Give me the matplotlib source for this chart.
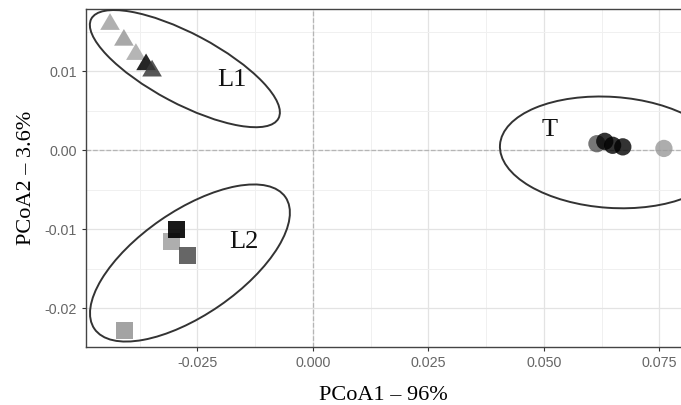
import matplotlib
matplotlib.use("Agg")
import matplotlib.pyplot as plt
import matplotlib.transforms as mtransforms
from matplotlib.patches import Ellipse
from matplotlib.ticker import MultipleLocator

# PCoA scores per group
L1_x = [-0.0439, -0.0409, -0.0383, -0.0361, -0.0348]
L1_y = [0.0162, 0.0142, 0.0124, 0.0111, 0.0103]
L1_col = ['#a3a3a3', '#999999', '#a8a8a8', '#000000', '#3a3a3a']

L2_x = [-0.0306, -0.0296, -0.0272, -0.0408]
L2_y = [-0.0116, -0.0100, -0.0134, -0.0229]
L2_col = ['#a5a5a5', '#000000', '#555555', '#999999']

T_x = [0.0615, 0.0632, 0.0649, 0.0671, 0.0760]
T_y = [0.0008, 0.0011, 0.0006, 0.0004, 0.0002]
T_col = ['#555555', '#000000', '#000000', '#000000', '#999999']

xticks = [-0.025, 0.0, 0.025, 0.05, 0.075]
xlabels = ['-0.025', '0.000', '0.025', '0.050', '0.075']
yticks = [-0.02, -0.01, 0.0, 0.01]
ylabels = ['-0.02', '-0.01', '0.00', '0.01']

# group labels and hand drawn ellipses (centre in data, size in px, angle)
groups = ['L1', 'L2', 'T']
label_pos = [(-0.0175, 0.0089), (-0.0149, -0.0117), (0.0513, 0.0025)]
ell_center = [(-0.0277, 0.0103), (-0.0266, -0.0143), (0.0646, -0.0003)]
ell_size = [(212, 70), (232, 104), (223, 111)]
ell_angle = [-28, 34.6, -3.9]

fig = plt.figure(figsize=(6.81, 4.05), dpi=100)
ax = fig.add_axes([0.1263, 0.1444, 0.8737, 0.8334])

ax.set_xlim(-0.0491, 0.0797)
ax.set_ylim(-0.02487, 0.01785)

ax.xaxis.set_minor_locator(MultipleLocator(0.0125))
ax.yaxis.set_minor_locator(MultipleLocator(0.005))
ax.grid(which='major', color='#e3e3e3', lw=0.9)
ax.grid(which='minor', color='#f0f0f0', lw=0.7)
ax.set_axisbelow(True)
ax.axhline(0, color='#b5b5b5', ls='--', lw=0.9, zorder=1)
ax.axvline(0, color='#b5b5b5', ls='--', lw=0.9, zorder=1)

tri = [(-1, -0.8), (1, -0.8), (0, 0.9)]
ax.scatter(L1_x, L1_y, c=L1_col, marker=tri, s=200, alpha=0.85, linewidths=0, zorder=3)
ax.scatter(L2_x, L2_y, c=L2_col, marker='s', s=150, alpha=0.9, linewidths=0, zorder=3)
ax.scatter(T_x, T_y, c=T_col, marker='o', s=155, alpha=0.8, linewidths=0, zorder=3)

for name, pos, c, sz, ang in zip(groups, label_pos, ell_center, ell_size, ell_angle):
    ax.text(pos[0], pos[1], name, fontsize=19, family='Liberation Serif',
            ha='center', va='center', color='#111111', zorder=4)
    tr = fig.dpi_scale_trans + mtransforms.ScaledTranslation(c[0], c[1], ax.transData)
    e = Ellipse((0, 0), sz[0] / 100, sz[1] / 100, angle=ang, transform=tr,
                fill=False, ec='#333333', lw=1.4, zorder=4, clip_on=False)
    ax.add_patch(e)

ax.set_xticks(xticks)
ax.set_xticklabels(xlabels)
ax.set_yticks(yticks)
ax.set_yticklabels(ylabels)
ax.tick_params(which='major', length=3, width=0.8, color='#333333',
               labelsize=10.3, labelcolor='#666666')
ax.tick_params(which='minor', length=0)
for lab in ax.get_xticklabels() + ax.get_yticklabels():
    lab.set_family('Liberation Sans')

for side in ['left', 'bottom', 'top']:
    ax.spines[side].set_color('#444444')
    ax.spines[side].set_linewidth(1.0)
ax.spines['right'].set_visible(False)

ax.set_xlabel('PCoA1 – 96%', family='Liberation Serif', fontsize=16, labelpad=12)
ax.set_ylabel('PCoA2 – 3.6%', family='Liberation Serif', fontsize=16, labelpad=6)

fig.savefig('out.png', dpi=100)
